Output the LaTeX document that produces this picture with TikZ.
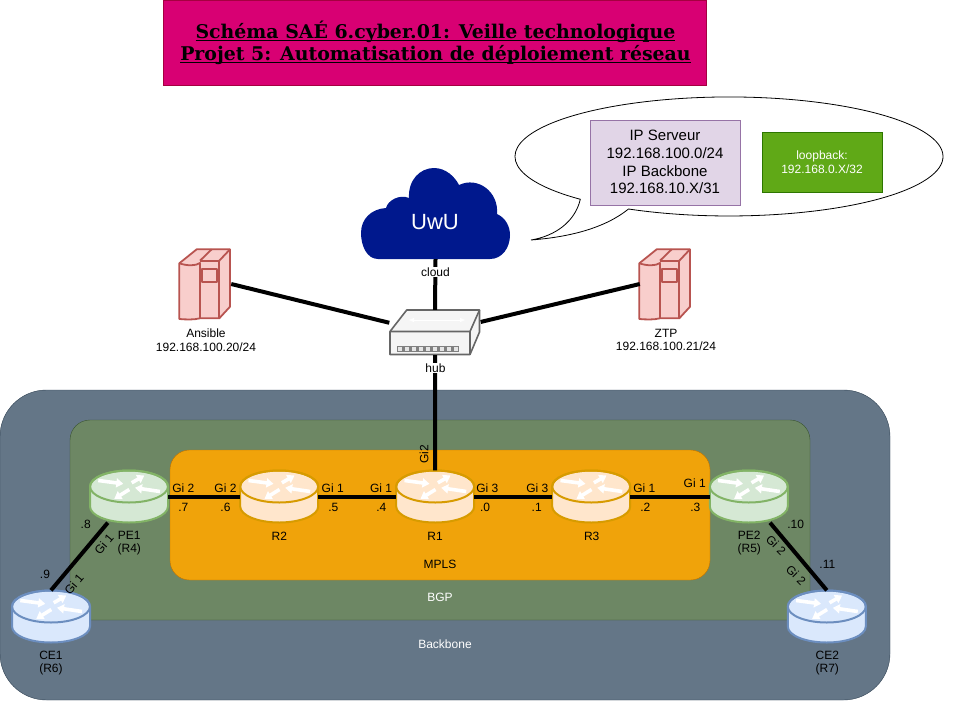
\documentclass[tikz,border=0pt]{standalone}
\usepackage{fontspec}
\setmainfont{Liberation Sans}
\newfontfamily\titlefont{DejaVu Serif}
\usetikzlibrary{arrows.meta}
\newcommand{\titleline}[1]{\strut\underline{\smash{#1}}}
\definecolor{titlebg}{HTML}{D80073}
\definecolor{titlefg}{HTML}{A50040}
\definecolor{backbonebg}{HTML}{647687}
\definecolor{backbonefg}{HTML}{314354}
\definecolor{bgpbg}{HTML}{6D8764}
\definecolor{bgpfg}{HTML}{3A5431}
\definecolor{mplsbg}{HTML}{F0A30A}
\definecolor{mplsfg}{HTML}{BD7000}
\definecolor{ipbg}{HTML}{E1D5E7}
\definecolor{ipfg}{HTML}{9673A6}
\definecolor{loopbg}{HTML}{60A917}
\definecolor{loopfg}{HTML}{2D7600}
\definecolor{corebg}{HTML}{FFE6CC}
\definecolor{corefg}{HTML}{D79B00}
\definecolor{edgebg}{HTML}{D5E8D4}
\definecolor{edgefg}{HTML}{82B366}
\definecolor{clientbg}{HTML}{DAE8FC}
\definecolor{clientfg}{HTML}{6C8EBF}
\definecolor{srvbg}{HTML}{F8CECC}
\definecolor{srvfg}{HTML}{B85450}
\definecolor{cloudbg}{HTML}{00188D}
\tikzset{
	txt/.style={inner sep=0pt, font=\fontsize{12}{13.6}\selectfont, align=center},
	gi/.style={inner sep=0pt, font=\fontsize{12}{13.6}\selectfont, text height=8.6pt, text depth=0pt},
	zone/.style={draw, rectangle, inner sep=0pt},
	link/.style={line width=4pt, draw=black},
	rtarrow/.style={white, line width=3.6pt, -{Triangle[length=7pt,width=9pt]}},
	srvline/.style={draw=srvfg, line width=1.8pt, line join=round}
}
\begin{document}
\begin{tikzpicture}[x=1pt, y=1pt]
	\useasboundingbox (0,0) rectangle (971,-701);
	% title
	\node (title) [rectangle, draw=titlefg, fill=titlebg, minimum width=543pt, minimum height=85pt, inner sep=0pt] at (434.5,-42.5) {};
	\node (titletext) [inner sep=0pt, align=center, font=\titlefont\bfseries\fontsize{18.9}{22}\selectfont] at (435.5,-45.3)
		{\titleline{Schéma SAÉ 6.cyber.01: Veille technologique}\\\titleline{Projet 5: Automatisation de déploiement réseau}};

	% zones
	\node (backbone) [zone, draw=backbonefg, fill=backbonebg, rounded corners=46.5pt, minimum width=890pt, minimum height=310pt] at (445,-545) {};
	\node (bgp) [zone, draw=bgpfg, fill=bgpbg, rounded corners=20pt, minimum width=740pt, minimum height=200pt] at (440,-520) {};
	\node (mpls) [zone, draw=mplsfg, fill=mplsbg, rounded corners=19.5pt, minimum width=540pt, minimum height=130pt] at (440,-515) {};

	% callout
	\draw [fill=white, line width=0.8pt] (628.5,-209) arc[start angle=242, end angle=586, x radius=214, y radius=59.5]
		.. controls (575,-222) and (555,-236) .. (531,-240)
		.. controls (570,-237) and (605,-228) .. (628.5,-209) -- cycle;
	\node (ipbox) [rectangle, draw=ipfg, fill=ipbg, line width=1pt, minimum width=150pt, minimum height=85pt, inner sep=0pt, align=center, font=\fontsize{15}{17.6}\selectfont] at (665,-162.5)
		{\raisebox{0.7pt}{IP Serveur}\\\raisebox{0.7pt}{192.168.100.0/24}\\\raisebox{0.7pt}{IP Backbone}\\\raisebox{0.7pt}{192.168.10.X/31}};
	\node (loopback) [rectangle, draw=loopfg, fill=loopbg, line width=1pt, minimum width=120pt, minimum height=60pt, inner sep=0pt, align=center, text=white, font=\fontsize{12}{14}\selectfont] at (822,-162)
		{loopback:\\192.168.0.X/32};

	% cloud
	\node (cloud) [inner sep=0pt, minimum width=149pt, minimum height=91pt] at (435.5,-213.5) {};
	\fill [cloudbg] (378,-259) .. controls (367,-259) and (361,-246) .. (361,-233)
		.. controls (361,-219) and (371,-209) .. (386,-208)
		.. controls (388,-200) and (400,-194) .. (409,-198)
		.. controls (408,-180) and (420,-168) .. (434,-168)
		.. controls (446,-168) and (455,-177) .. (459,-185)
		.. controls (478,-176) and (499,-192) .. (497,-214)
		.. controls (506,-218) and (510,-227) .. (510,-235)
		.. controls (510,-248) and (502,-259) .. (490,-259) -- cycle;
	\node (uwu) [inner sep=0pt, text=white, font=\fontsize{22}{24}\selectfont] at (435,-222.5) {UwU};

	% hub
	\node (hub) [inner sep=0pt, minimum width=91pt, minimum height=45pt] at (435,-332.5) {};
	\draw [fill=white!96!black, draw=black!60, line width=1.6pt, line join=round] (390,-331.5) -- (406.7,-310) -- (479.5,-310) -- (479.5,-332) -- (470,-354.5) -- (390,-354.5) -- cycle;
	\draw [draw=black!60, line width=1.6pt, line join=round] (390,-331.5) -- (470,-331.5) -- (479.5,-310) (470,-331.5) -- (470,-354.5);
	\draw [white, line width=0.8pt, {Triangle[length=5pt,width=4pt]}-{Triangle[length=5pt,width=4pt]}] (409,-320) -- (465,-320);
	\fill [black!50] (397,-346) rectangle (459,-352);
	\foreach \i in {0,...,8}
		\fill [white!90!black] (398.2+\i*7,-347.2) rectangle (401.8+\i*7,-350.8);

	% servers
	\foreach \nm/\cx in {Ansible/205.5,ZTP/665.5}{
		\node (\nm) [inner sep=0pt, minimum width=51pt, minimum height=70pt] at (\cx,-284) {};
		\begin{scope}[shift={(\cx,-284)}]
			\draw [srvline, fill=srvbg] (-26.2,20.7) -- (-8.8,34.7) -- (24.5,34.7) -- (24.5,-22.7) -- (13.8,-34.3) -- (-5.5,-34.3) .. controls (-12,-36) and (-20,-35.5) .. (-26.2,-35) -- cycle;
			\draw [srvline] (-26.2,20.7) .. controls (-18,18) and (-10,18) .. (-5.5,21) -- (-5.5,-34.3);
			\draw [srvline] (-5.5,23.3) -- (13.8,23.3) -- (13.8,-34.3);
			\draw [srvline] (13.8,23.3) -- (24.5,34.7);
			\draw [srvline] (-5.5,23.3) -- (6.2,34.7);
			\draw [srvline] (-3.2,15) rectangle (11.2,2.3);
		\end{scope}
	}

	% routers
	\foreach \nm/\x/\y/\bg/\fg in {R1/435.2/496.5/corebg/corefg, R2/279.2/496.5/corebg/corefg, R3/591.2/496.5/corebg/corefg,
		PE1/129/496.5/edgebg/edgefg, PE2/748.8/496.5/edgebg/edgefg, CE1/51/616.5/clientbg/clientfg, CE2/826.8/616.5/clientbg/clientfg}{
		\node (\nm) [inner sep=0pt, minimum width=78pt, minimum height=52pt] at (\x,-\y) {};
		\begin{scope}[shift={(\x,-\y)}]
			\draw [fill=\bg, draw=\fg, line width=2pt] (-39,10) -- (-39,-10) arc[start angle=180, end angle=360, x radius=39, y radius=16] -- (39,10) arc[start angle=0, end angle=180, x radius=39, y radius=16] -- cycle;
			\draw [draw=\fg, line width=2pt] (0,10) ellipse [x radius=39, y radius=16];
			\draw [rtarrow] (-30.7,16) -- (-5.7,12.7);
			\draw [rtarrow] (2.7,13.7) -- (15.3,21);
			\draw [rtarrow] (31,5) -- (6,8.7);
			\draw [rtarrow] (0.3,7) -- (-14.7,-2.3);
		\end{scope}
	}

	% links
	\draw [link] (cloud.south) -- (hub.north);
	\draw [link] (Ansible.east) -- (hub.168);
	\draw [link] (ZTP.west) -- (hub.13);
	\draw [link] (hub.south) -- (R1.north);
	\draw [link] (PE1.east) -- (R2.west);
	\draw [link] (R2.east) -- (R1.west);
	\draw [link] (R1.east) -- (R3.west);
	\draw [link] (R3.east) -- (PE2.west);
	\draw [link] (PE1.231) -- (CE1.north);
	\draw [link] (PE2.309) -- (CE2.north);

	% labels
	\node (cloudlbl) [txt, fill=white, inner xsep=1pt, inner ysep=1pt] at (435.5,-272) {cloud};
	\node (hublbl) [txt, fill=white, inner xsep=1pt, inner ysep=1pt] at (435.5,-368) {hub};
	\node (ansiblelbl) [txt] at (206,-340) {Ansible\\192.168.100.20/24};
	\node (ztplbl) [txt] at (666,-340) {ZTP\\192.168.100.21/24};
	\node (pe1lbl) [txt] at (129.3,-543) {PE1\\(R4)};
	\node (pe2lbl) [txt] at (749.3,-543) {PE2\\(R5)};
	\node (ce1lbl) [txt] at (51,-663) {CE1\\(R6)};
	\node (ce2lbl) [txt] at (827.3,-663) {CE2\\(R7)};
	\node (r2lbl) [txt] at (279.3,-536) {R2};
	\node (r1lbl) [txt] at (435,-536) {R1};
	\node (r3lbl) [txt] at (591.7,-536) {R3};
	\node (mplslbl) [txt] at (440,-564) {MPLS};
	\node (bgplbl) [txt, text=white] at (440,-597.3) {BGP};
	\node (backbonelbl) [txt, text=white] at (445,-644.5) {Backbone};

	% interfaces
	\foreach \x/\y/\t [count=\i] in {183.3/488/Gi 2, 225.5/488/Gi 2, 332.7/488/Gi 1, 381/488/Gi 1, 487.3/488/Gi 3, 537.3/488/Gi 3, 644.3/488/Gi 1, 694.7/483.5/Gi 1,
		183.3/507/.7, 225.5/507/.6, 333.3/507/.5, 381.3/507/.4, 485/507/.0, 536.7/507/.1, 645.3/507/.2, 695.3/507/.3,
		85.7/524/.8, 45/574/.9, 795.7/524/.10, 827.3/564/.11}
		\node (if\i) [gi] at (\x,-\y) {\t};
	\node (gi2up) [gi, rotate=90] at (424,-454) {Gi2};
	\node (gi1a) [gi, rotate=50] at (104,-544) {Gi 1};
	\node (gi1b) [gi, rotate=50] at (74,-584) {Gi 1};
	\node (gi2a) [gi, rotate=-45] at (776,-545) {Gi 2};
	\node (gi2b) [gi, rotate=-45] at (796,-575) {Gi 2};
\end{tikzpicture}
\end{document}
